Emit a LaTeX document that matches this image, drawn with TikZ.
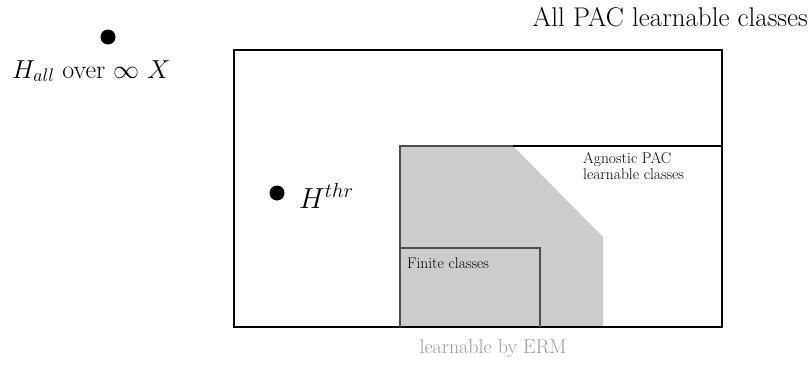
\RequirePackage{fix-cm}
\documentclass[tikz,border=0pt]{standalone}
\usepackage{fontspec}
\definecolor{regiongray}{HTML}{CCCCCC}
\definecolor{edgegray}{HTML}{4D4D4D}
\definecolor{labelgray}{HTML}{999999}
\tikzset{
  dotnode/.style={circle,fill=black,inner sep=0pt,minimum size=15pt},
  bigtext/.style={inner sep=0pt,font=\fontsize{27}{32}\selectfont},
  smalltext/.style={inner sep=0pt,font=\fontsize{15.5}{18}\selectfont},
  outerbox/.style={line width=2.4pt,draw=black},
  innerline/.style={line width=2pt},
}
\begin{document}
\begin{tikzpicture}[x=1pt,y=-1pt]
\useasboundingbox (0,0) rectangle (811,372);
% gray region (agnostic PAC)
\fill[regiongray] (400,146) -- (513,146) -- (603,237) -- (603,327) -- (400,327) -- cycle;
% outer box
\draw[outerbox] (234,50) rectangle (722,327);
% agnostic box
\draw[innerline,black] (513,146) -- (722,146);
\draw[innerline,edgegray] (400,327) -- (400,146) -- (513,146);
% finite box
\draw[innerline,edgegray] (400,327) -- (400,248) -- (540,248) -- (540,327);
% texts
\node[bigtext,anchor=base east] (allpac) at (808,27) {All PAC learnable classes};
\node[dotnode] (hallDot) at (108,37) {};
\node[bigtext,anchor=base west,font=\fontsize{26}{30}\selectfont] (hall) at (12,78) {$H_{all}$ over $\infty$ $X$};
\node[dotnode] (thrDot) at (277,193) {};
\node[bigtext,anchor=base west,font=\fontsize{29}{34}\selectfont] (hthr) at (299,208) {$H^{thr}$};
\node[smalltext,anchor=base west] (agn1) at (583,163) {Agnostic PAC};
\node[smalltext,anchor=base west] (agn2) at (583,179) {learnable classes};
\node[smalltext,anchor=base west] (fin) at (407,268) {Finite classes};
\node[inner sep=0pt,anchor=base,text=labelgray,font=\fontsize{20}{24}\selectfont] (erm) at (493,353) {learnable by ERM};
\end{tikzpicture}
\end{document}
